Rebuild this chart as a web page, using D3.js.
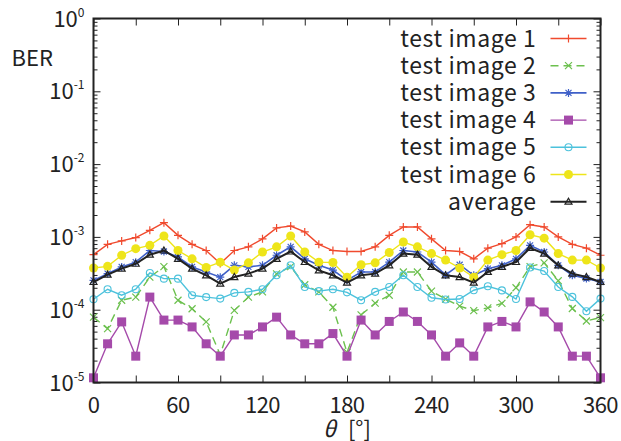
<!DOCTYPE html>
<html>
<head>
<meta charset="utf-8">
<script src="https://cdn.jsdelivr.net/npm/d3@7"></script>
<style>
  body { margin: 0; background: #fff; }
  svg { display: block; font-family: "Noto Sans CJK JP", "Noto Sans", sans-serif; }
</style>
</head>
<body>
<div id="chart"></div>
<script>
// angle (deg) and BER per test image
const theta = [0,10,20,30,40,50,60,70,80,90,100,110,120,130,140,150,160,170,180,
  190,200,210,220,230,240,250,260,270,280,290,300,310,320,330,340,350,360];

const ber1 = [5.7e-4,7.9e-4,8.8e-4,9.8e-4,1.23e-3,1.57e-3,1.05e-3,7.9e-4,6.5e-4,4.3e-4,
  6.5e-4,7.3e-4,9.4e-4,1.33e-3,1.41e-3,1.17e-3,7.9e-4,6.5e-4,6.3e-4,6.3e-4,7.3e-4,
  1.05e-3,1.37e-3,1.37e-3,9.4e-4,6.5e-4,6.3e-4,5.0e-4,7.0e-4,8.1e-4,1.0e-3,1.47e-3,
  1.37e-3,1.0e-3,7.9e-4,7.0e-4,5.6e-4];
const ber2 = [7.9e-5,5.5e-5,1.35e-4,1.49e-4,2.8e-4,3.9e-4,1.35e-4,1.03e-4,6.8e-5,2.4e-5,
  9.8e-5,1.49e-4,1.76e-4,3.1e-4,3.9e-4,2.2e-4,1.76e-4,1.08e-4,2.6e-5,8.5e-5,1.23e-4,
  1.58e-4,3.3e-4,3.3e-4,1.8e-4,1.4e-4,1.12e-4,9.7e-5,1.06e-4,1.22e-4,2.0e-4,3.9e-4,
  4.4e-4,2.5e-4,1.04e-4,7.0e-5,7.8e-5];
const ber3 = [2.53e-4,3.13e-4,3.87e-4,4.5e-4,6.5e-4,6.3e-4,5.3e-4,3.87e-4,3.3e-4,2.8e-4,
  4.07e-4,3.87e-4,4.07e-4,5.6e-4,7.3e-4,5.0e-4,4.07e-4,3.5e-4,2.53e-4,3.3e-4,3.3e-4,
  4.5e-4,6.5e-4,6.2e-4,4.5e-4,3.0e-4,4.15e-4,2.97e-4,3.66e-4,4.07e-4,5.0e-4,7.65e-4,
  6.2e-4,4.07e-4,2.97e-4,2.68e-4,2.4e-4];
const ber4 = [1.16e-5,3.4e-5,6.8e-5,2.3e-5,1.49e-4,7.2e-5,7.2e-5,5.8e-5,3.4e-5,2.3e-5,
  4.5e-5,4.5e-5,5.8e-5,7.9e-5,4.5e-5,3.4e-5,3.4e-5,4.7e-5,2.3e-5,7.2e-5,4.5e-5,
  6.9e-5,9.3e-5,6.9e-5,4.5e-5,2.3e-5,3.5e-5,2.3e-5,5.8e-5,6.9e-5,5.8e-5,1.28e-4,
  9.3e-5,5.8e-5,2.3e-5,2.3e-5,1.16e-5];
const ber5 = [1.39e-4,1.91e-4,1.58e-4,1.91e-4,3.2e-4,2.67e-4,2.67e-4,1.58e-4,1.49e-4,1.42e-4,
  1.7e-4,1.76e-4,1.91e-4,2.97e-4,4.07e-4,2.05e-4,1.8e-4,1.91e-4,1.73e-4,1.35e-4,1.76e-4,
  2.05e-4,2.97e-4,2.05e-4,1.46e-4,1.38e-4,1.4e-4,1.85e-4,2.1e-4,1.84e-4,1.4e-4,3.8e-4,
  3.4e-4,2.05e-4,1.5e-4,9.5e-5,1.42e-4];
const ber6 = [3.74e-4,3.94e-4,5.6e-4,6.9e-4,7.65e-4,1.03e-3,6.5e-4,5.0e-4,3.8e-4,4.5e-4,
  3.5e-4,4.4e-4,6.2e-4,7.3e-4,1.03e-3,6.2e-4,4.5e-4,4.45e-4,2.8e-4,4.15e-4,4.4e-4,
  6.1e-4,8.5e-4,7.3e-4,5.9e-4,4.8e-4,3.74e-4,2.8e-4,4.8e-4,5.7e-4,6.5e-4,1.07e-3,
  9.6e-4,5.9e-4,4.8e-4,4.8e-4,3.74e-4];
const berAvg = [2.4e-4,3.03e-4,3.66e-4,4.28e-4,5.7e-4,6.5e-4,5.0e-4,3.66e-4,2.97e-4,2.28e-4,
  2.81e-4,3.13e-4,3.66e-4,5.0e-4,6.3e-4,4.52e-4,3.47e-4,2.97e-4,2.35e-4,2.97e-4,3.13e-4,
  4.07e-4,5.9e-4,5.7e-4,3.87e-4,2.97e-4,2.81e-4,2.35e-4,3.3e-4,3.87e-4,4.52e-4,7.05e-4,
  5.9e-4,4.07e-4,3.13e-4,2.81e-4,2.4e-4];

const seriesNames = ["test image 1","test image 2","test image 3","test image 4",
  "test image 5","test image 6","average"];
const xTicks = [0,60,120,180,240,300,360];
const xMinorTicks = [30,90,150,210,270,330];
const yExponents = [0,-1,-2,-3,-4,-5];

const margin = {top: 18.5, right: 20.5, bottom: 58.5, left: 93.5},
    width = 621 - margin.left - margin.right,
    height = 441 - margin.top - margin.bottom;

const svg = d3.select("#chart")
  .append("svg")
    .attr("width", 621)
    .attr("height", 441)
  .append("g")
    .attr("transform", `translate(${margin.left},${margin.top})`);

const x = d3.scaleLinear().domain([0, 360]).range([0, width]);
const y = d3.scaleLog().domain([1e-5, 1]).range([height, 0]);

const yMajor = yExponents.map(e => Math.pow(10, e));
const yMinor = [];
yExponents.slice(1).forEach(e => [2,3,4,5,6,7,8,9].forEach(m => yMinor.push(m * Math.pow(10, e))));

// ticks on all four sides, pointing inwards
function tickAxis(axis, vals, size, transform) {
  const g = svg.append("g").attr("transform", transform || null)
    .call(axis.tickValues(vals).tickSize(size).tickFormat(""));
  g.select(".domain").remove();
  g.selectAll("line").attr("stroke", "#222").attr("stroke-width", 1);
}
tickAxis(d3.axisBottom(x), xTicks.concat(xMinorTicks), -7, `translate(0,${height})`);
tickAxis(d3.axisTop(x), xTicks.concat(xMinorTicks), -7);
tickAxis(d3.axisLeft(y), yMajor, -7);
tickAxis(d3.axisLeft(y), yMinor, -4);
tickAxis(d3.axisRight(y), yMajor, -7, `translate(${width},0)`);
tickAxis(d3.axisRight(y), yMinor, -4, `translate(${width},0)`);

// x labels
svg.append("g").selectAll("text")
  .data(xTicks)
  .join("text")
    .attr("x", d => x(d))
    .attr("y", height + 30)
    .attr("text-anchor", "middle")
    .style("font-size", "22px")
    .style("letter-spacing", "-0.5px")
    .attr("fill", "#222")
    .text(d => d);

// y labels 10^n
const yl = svg.append("g").selectAll("text")
  .data(yExponents)
  .join("text")
    .attr("x", -9)
    .attr("y", d => y(Math.pow(10, d)) + 8)
    .attr("text-anchor", "end")
    .style("font-size", "22px")
    .attr("fill", "#222");
yl.append("tspan").text("10");
yl.append("tspan").attr("dy", -10).style("font-size", "12px").text(d => d === 0 ? "0" : "-" + (-d));

svg.append("text")
  .attr("x", -82)
  .attr("y", 47)
  .style("font-size", "22px")
  .attr("fill", "#222")
  .text("BER");

const xt = svg.append("text")
  .attr("x", width / 2)
  .attr("y", height + 54)
  .attr("text-anchor", "middle")
  .style("font-size", "22px")
  .attr("fill", "#222");
xt.append("tspan").style("font-style", "italic").text("θ");
xt.append("tspan").attr("dx", 12).text("[°]");

// series
const series = [
  {name: seriesNames[0], values: ber1, color: "#f04a2e", mark: "plus", width: 1.4},
  {name: seriesNames[1], values: ber2, color: "#6cc04e", mark: "cross", width: 1.4, dash: "8,5"},
  {name: seriesNames[2], values: ber3, color: "#3f60c8", mark: "star", width: 1.6},
  {name: seriesNames[3], values: ber4, color: "#a54aaa", mark: "square", width: 1.4},
  {name: seriesNames[4], values: ber5, color: "#4cc2dc", mark: "circle", width: 1.4},
  {name: seriesNames[5], values: ber6, color: "#eee51a", mark: "dot", width: 1.4},
  {name: seriesNames[6], values: berAvg, color: "#222222", mark: "triangle", width: 2}
];

function drawMark(g, type, color, cx, cy) {
  if (type === "plus") {
    g.append("path").attr("d", `M${cx-4},${cy}h8M${cx},${cy-4}v8`).attr("stroke", color).attr("stroke-width", 1.2);
  } else if (type === "cross") {
    g.append("path").attr("d", `M${cx-3.5},${cy-3.5}l7,7M${cx-3.5},${cy+3.5}l7,-7`).attr("stroke", color).attr("stroke-width", 1.2);
  } else if (type === "star") {
    g.append("path").attr("d", `M${cx-4},${cy}h8M${cx},${cy-4}v8M${cx-3},${cy-3}l6,6M${cx-3},${cy+3}l6,-6`).attr("stroke", color).attr("stroke-width", 1.2);
  } else if (type === "square") {
    g.append("rect").attr("x", cx-4.5).attr("y", cy-4.5).attr("width", 9).attr("height", 9).attr("fill", color);
  } else if (type === "circle") {
    g.append("circle").attr("cx", cx).attr("cy", cy).attr("r", 3.5).attr("fill", "none").attr("stroke", color).attr("stroke-width", 1.1);
  } else if (type === "dot") {
    g.append("circle").attr("cx", cx).attr("cy", cy).attr("r", 4.5).attr("fill", color);
  } else if (type === "triangle") {
    g.append("path").attr("d", `M${cx},${cy-3.5}L${cx+3.5},${cy+2.5}L${cx-3.5},${cy+2.5}Z`).attr("fill", "none").attr("stroke", color).attr("stroke-width", 1.2);
  }
}

const line = d3.line().x((d, i) => x(theta[i])).y(d => y(d));

series.forEach(s => {
  const g = svg.append("g");
  g.append("path")
    .datum(s.values)
    .attr("d", line)
    .attr("fill", "none")
    .attr("stroke", s.color)
    .attr("stroke-width", s.width)
    .attr("stroke-dasharray", s.dash || null);
  s.values.forEach((v, i) => drawMark(g, s.mark, s.color, x(theta[i]), y(v)));
});

// frame
svg.append("rect")
  .attr("width", width)
  .attr("height", height)
  .attr("fill", "none")
  .attr("stroke", "#222")
  .attr("stroke-width", 2);

// legend
const legend = svg.append("g");
series.forEach((s, i) => {
  const ly = 20 + i * 27.2;
  legend.append("text")
    .attr("x", 443)
    .attr("y", ly + 8)
    .attr("text-anchor", "end")
    .style("font-size", "23px")
    .style("letter-spacing", "0.6px")
    .attr("fill", "#222")
    .text(s.name);
  legend.append("line")
    .attr("x1", 457).attr("x2", 493)
    .attr("y1", ly).attr("y2", ly)
    .attr("stroke", s.color)
    .attr("stroke-width", s.width)
    .attr("stroke-dasharray", s.dash || null);
  drawMark(legend, s.mark, s.color, 475, ly);
});
</script>
</body>
</html>
